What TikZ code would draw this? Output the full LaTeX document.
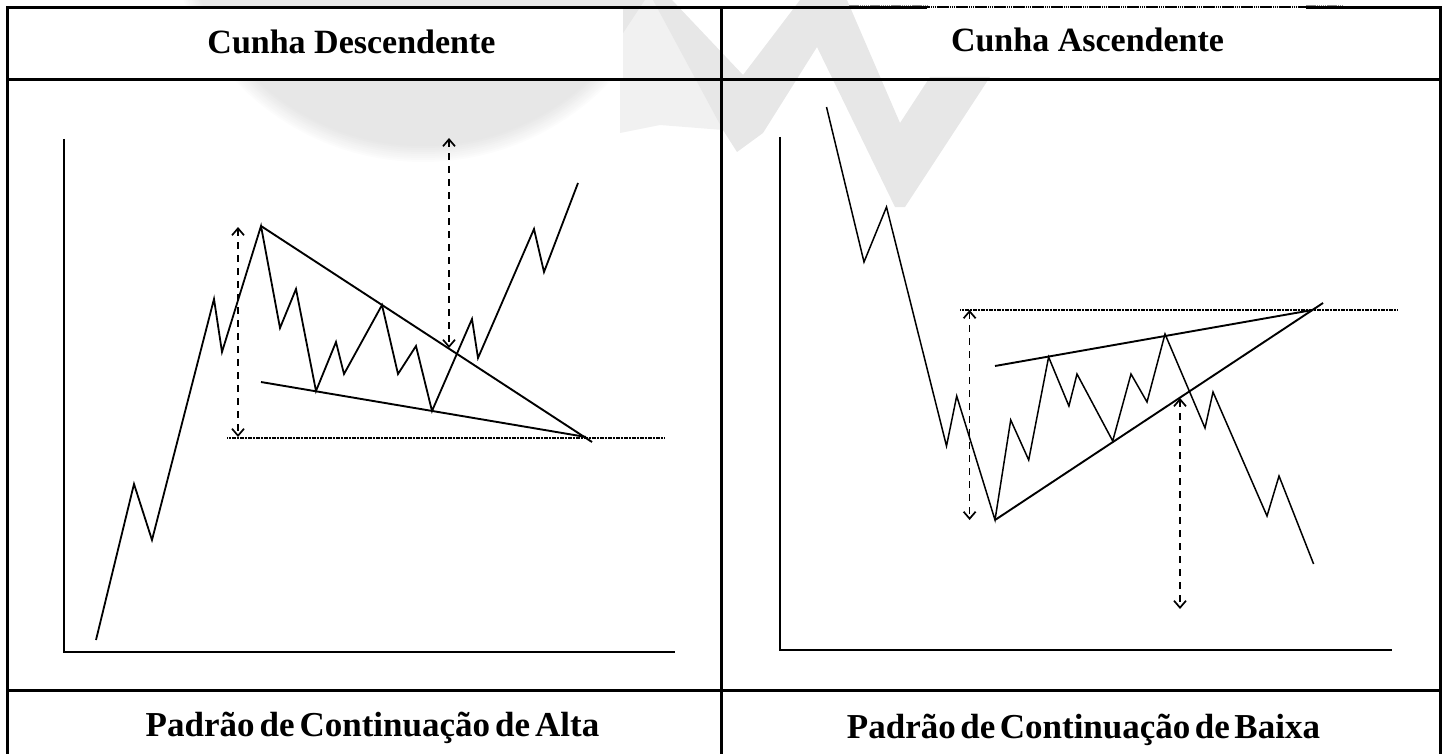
\documentclass[tikz,border=0pt]{standalone}
\usepackage{fontspec}
\setmainfont{Liberation Serif}
\usetikzlibrary{arrows.meta}
\definecolor{wmark}{HTML}{E7E7E7}
\definecolor{wmarksoft}{HTML}{F1F1F1}
\tikzset{
  frameline/.style={line width=3pt,black},
  axisline/.style={line width=2.2pt,black},
  chartline/.style={line width=1.8pt,black,line join=miter},
  chartthin/.style={line width=1.5pt,black,line join=miter},
  trendline/.style={line width=1.9pt,black},
  levelline/.style={line width=1.8pt,black,dash pattern=on 1.2pt off 0.4pt},
  measure/.style={line width=1.5pt,black,dash pattern=on 7pt off 6pt,{Straight Barb[length=7pt,width=12pt,line width=1.7pt]}-{Straight Barb[length=7pt,width=12pt,line width=1.7pt]}},
  title/.style={anchor=base,font=\fontsize{34}{38}\selectfont\bfseries,inner sep=0pt},
  titlewide/.style={anchor=base,font=\fontsize{35}{38}\selectfont\bfseries,inner sep=0pt},
}
\begin{document}
\begin{tikzpicture}[x=1pt,y=-1pt]
\useasboundingbox (0,0) rectangle (1447,754);
% watermark
\foreach \r/\t in {258/12,256/24,254/36,252/48,250/60,248/70,246/80,244/90}
  \fill[wmark!\t!white] (423,-96) circle (\r);
\fill[wmark] (423,-96) circle (242);
\fill[wmarksoft] (620,38) -- (645,0) -- (660,0) -- (723,130) -- (660,125) -- (620,133) -- cycle;
\fill[wmark] (653,0) -- (672,0) -- (743,75) -- (800,0) -- (847,0) -- (900,123) -- (930,77) -- (990,77) -- (905,207) -- (895,207) -- (817,47) -- (763,133) -- (737,152) -- (723,130) -- cycle;
\fill[white] (186,9) rectangle (623,79);
% table frame
\draw[frameline] (7,8) -- (927,8);
\draw[frameline] (1306,8) -- (1440,8);
\draw[line width=1.2pt,black,dash pattern=on 1.5pt off 0.4pt] (927,7) -- (1306,7);
\draw[line width=1pt,black!45,dash pattern=on 1.5pt off 0.6pt] (849,6) -- (927,6) (1306,6) -- (1343,6);
\draw[frameline] (7,80) -- (1440,80);
\draw[frameline] (7,690) -- (1440,690);
\draw[frameline] (7,6.5) -- (7,754);
\draw[frameline] (721,8) -- (721,754);
\draw[frameline] (1440,6.5) -- (1440,754);
% titles
\node[title] (t1) at (351.5,54) {Cunha Descendente};
\node[title] (t2) at (1087.5,52) {Cunha Ascendente};
\node[titlewide] (t3) at (372.5,736) {\spaceskip=5pt Padrão de Continuação de Alta};
\node[titlewide] (t4) at (1083.5,738) {\spaceskip=4.5pt Padrão de Continuação de Baixa};
% left chart
\draw[axisline] (64,139) -- (64,652) -- (675,652);
\draw[chartline] (96,640) -- (134,484) -- (152,540) -- (214,299) -- (222,352) -- (261,226) -- (280,328) -- (296,289) -- (316,391) -- (336,342) -- (344,374) -- (382,305) -- (398,374) -- (416,346) -- (432,411) -- (472,319) -- (478,358) -- (534,229) -- (544,272) -- (578,183);
\draw[trendline] (261,226) -- (592,442);
\draw[trendline] (261,382) -- (586,437);
\draw[levelline] (227,438) -- (665,438);
\draw[measure] (238,227) -- (238,437);
\draw[measure] (449,138) -- (449,348);
% right chart
\draw[axisline] (780,137) -- (780,650) -- (1392,650);
\draw[chartthin] (826.5,107) -- (864,262) -- (886.5,207) -- (946.5,446) -- (956.7,396) -- (995,520) -- (1010.7,420) -- (1028.7,460) -- (1048.6,357) -- (1068.9,406) -- (1077,374) -- (1112.7,441) -- (1131,374) -- (1147,402) -- (1165,334) -- (1205,428) -- (1213,392) -- (1267,516) -- (1279,476) -- (1313.6,564);
\draw[trendline] (995,520) -- (1323,303);
\draw[trendline] (995,366) -- (1312.6,310);
\draw[levelline] (960,310) -- (1398,310);
\draw[measure] (969.6,310) -- (969.6,520);
\draw[measure] (1180,398) -- (1180,609);
\end{tikzpicture}
\end{document}
